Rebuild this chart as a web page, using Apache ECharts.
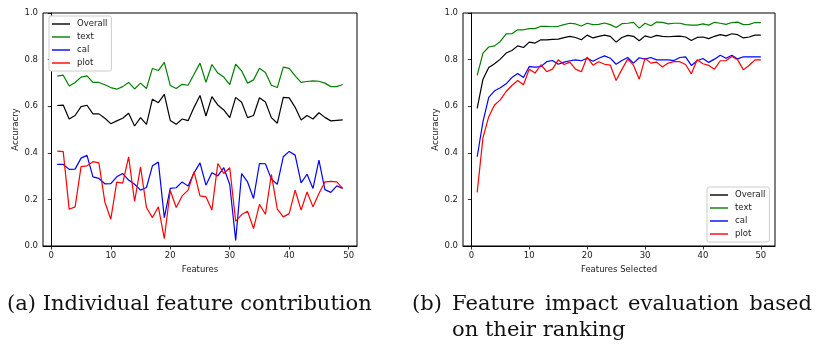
<!DOCTYPE html>
<html>
<head>
<meta charset="utf-8">
<script src="https://cdn.jsdelivr.net/npm/echarts@6/dist/echarts.min.js"></script>
<style>
html,body{margin:0;padding:0;background:#fff;}
#c{width:816px;height:352px;}
</style>
</head>
<body>
<div id="c"></div>
<script>
// ---------- data: (a) Individual feature contribution ----------
const seriesNames = ['Overall', 'text', 'cal', 'plot'];
const aOverall = [0.603,0.605,0.545,0.560,0.598,0.604,0.567,0.567,0.548,0.525,0.537,0.548,0.570,0.515,0.551,0.522,0.630,0.615,0.651,0.539,0.522,0.545,0.538,0.595,0.646,0.558,0.641,0.605,0.584,0.551,0.638,0.617,0.551,0.560,0.636,0.618,0.551,0.527,0.638,0.636,0.595,0.541,0.560,0.545,0.572,0.552,0.537,0.539,0.541];
const aText = [0.729,0.733,0.687,0.702,0.725,0.730,0.702,0.702,0.692,0.680,0.673,0.684,0.702,0.674,0.699,0.676,0.762,0.753,0.788,0.689,0.676,0.694,0.690,0.737,0.785,0.703,0.779,0.742,0.725,0.693,0.780,0.752,0.699,0.713,0.763,0.745,0.690,0.680,0.768,0.762,0.730,0.702,0.706,0.709,0.707,0.699,0.684,0.684,0.693];
const aCal = [0.350,0.350,0.329,0.330,0.377,0.389,0.297,0.290,0.267,0.268,0.297,0.311,0.283,0.265,0.240,0.251,0.344,0.360,0.122,0.247,0.250,0.275,0.257,0.314,0.357,0.261,0.314,0.301,0.336,0.264,0.024,0.311,0.275,0.204,0.354,0.353,0.287,0.265,0.383,0.406,0.390,0.271,0.308,0.247,0.369,0.242,0.230,0.258,0.247];
const aPlot = [0.407,0.405,0.158,0.168,0.341,0.344,0.362,0.357,0.189,0.115,0.274,0.270,0.383,0.191,0.340,0.165,0.122,0.168,0.032,0.238,0.165,0.215,0.240,0.319,0.215,0.211,0.154,0.354,0.311,0.336,0.106,0.135,0.149,0.075,0.179,0.136,0.307,0.158,0.125,0.139,0.240,0.154,0.232,0.168,0.225,0.275,0.277,0.275,0.247];

// ---------- data: (b) Feature impact evaluation based on ranking ----------
const bOverall = [0.591,0.716,0.766,0.782,0.802,0.828,0.839,0.859,0.852,0.875,0.871,0.885,0.885,0.887,0.888,0.894,0.900,0.895,0.885,0.905,0.893,0.900,0.905,0.900,0.875,0.895,0.904,0.900,0.881,0.902,0.895,0.904,0.900,0.898,0.900,0.901,0.897,0.882,0.895,0.897,0.890,0.900,0.907,0.902,0.911,0.907,0.893,0.897,0.905,0.905];
const bText = [0.732,0.828,0.854,0.859,0.878,0.910,0.911,0.928,0.928,0.933,0.933,0.943,0.943,0.941,0.943,0.950,0.956,0.953,0.944,0.956,0.950,0.951,0.957,0.950,0.938,0.954,0.956,0.960,0.935,0.956,0.945,0.961,0.960,0.953,0.956,0.956,0.950,0.948,0.948,0.953,0.948,0.960,0.956,0.951,0.959,0.961,0.950,0.951,0.959,0.959];
const bCal = [0.383,0.534,0.638,0.666,0.679,0.696,0.723,0.740,0.723,0.770,0.768,0.770,0.791,0.796,0.780,0.789,0.795,0.799,0.795,0.806,0.793,0.806,0.816,0.806,0.780,0.796,0.809,0.785,0.808,0.802,0.809,0.799,0.799,0.799,0.796,0.809,0.812,0.775,0.795,0.805,0.788,0.802,0.819,0.806,0.819,0.803,0.812,0.812,0.812,0.812];
const bPlot = [0.230,0.465,0.555,0.605,0.627,0.663,0.689,0.710,0.692,0.759,0.742,0.778,0.748,0.759,0.799,0.779,0.789,0.759,0.748,0.811,0.776,0.791,0.780,0.776,0.710,0.758,0.802,0.776,0.716,0.806,0.785,0.789,0.768,0.785,0.791,0.791,0.779,0.739,0.799,0.782,0.775,0.759,0.795,0.796,0.813,0.799,0.756,0.776,0.799,0.799];

const xTicks = [0, 10, 20, 30, 40, 50];
const yTicks = [0, 0.2, 0.4, 0.6, 0.8, 1.0];
const colors = ['#000000', '#008000', '#0000ff', '#ff0000'];
const captionA = '(a) Individual feature contribution';
const captionB1 = ['(b)', 'Feature', 'impact', 'evaluation', 'based'];
const captionB2 = 'on their ranking';

// ---------- build ----------
const FONT = '"DejaVu Sans", sans-serif';
const FS = 8.5;
const TXT = '#1a1a1a';

function pairs(arr) { return arr.map((v, i) => [i + 1, v]); }

function xAxis(gi, min, max, name) {
  return {
    type: 'value', gridIndex: gi, min: min, max: max,
    name: name, nameLocation: 'middle', nameGap: 15,
    nameTextStyle: { fontFamily: FONT, fontSize: FS, color: TXT },
    axisLine: { show: true, lineStyle: { color: '#000', width: 1 } },
    axisTick: { show: true, length: 3.5, inside: false, customValues: xTicks, lineStyle: { color: '#000', width: 0.8 } },
    axisLabel: { customValues: xTicks, fontFamily: FONT, fontSize: FS, color: TXT, margin: 5 },
    splitLine: { show: false }
  };
}
function yAxis(gi, gap) {
  return {
    type: 'value', gridIndex: gi, min: 0, max: 1, interval: 0.2,
    name: 'Accuracry', nameLocation: 'middle', nameGap: gap,
    nameTextStyle: { fontFamily: FONT, fontSize: FS, color: TXT },
    axisLine: { show: true, lineStyle: { color: '#000', width: 1 } },
    axisTick: { show: true, length: 3.5, inside: false, lineStyle: { color: '#000', width: 0.8 } },
    axisLabel: { fontFamily: FONT, fontSize: FS, color: TXT, margin: 5, formatter: v => v.toFixed(1) },
    splitLine: { show: false }
  };
}
function line(name, data, color, gi) {
  return {
    type: 'line', name: name, xAxisIndex: gi, yAxisIndex: gi,
    data: pairs(data), showSymbol: false, symbol: 'none',
    lineStyle: { color: color, width: 1.2 }, itemStyle: { color: color },
    emphasis: { disabled: true }, animation: false
  };
}
const LEG_ICON = 'path://M0,0 L18,0 L18,1.4 L0,1.4 Z';
function legend(left, top) {
  return {
    orient: 'vertical', left: left, top: top,
    data: seriesNames.map(n => ({ name: n, icon: LEG_ICON })),
    backgroundColor: '#fff', borderColor: '#cccccc', borderWidth: 1, borderRadius: 2,
    padding: [3, 4, 3, 3], itemGap: 3, itemWidth: 18, itemHeight: 10,
    itemStyle: { borderWidth: 0 },
    textStyle: { fontFamily: FONT, fontSize: FS, color: TXT, lineHeight: 10, padding: [0, 0, 0, 2] },
    selectedMode: false
  };
}

// captions
const SERIF = '"DejaVu Serif", serif';
const mctx = document.createElement('canvas').getContext('2d');
function tw(t, s) { mctx.font = s + 'px ' + SERIF; return mctx.measureText(t).width; }
const capSize = 19 * 365 / tw(captionA, 19);
const graphics = [];
graphics.push({ type: 'text', silent: true, style: { text: captionA, x: 7, y: 305, font: capSize + 'px ' + SERIF, fill: '#111', textAlign: 'left', textVerticalAlign: 'middle' } });
const bLeft = 412, bRight = 812;
const wordsW = captionB1.map(w => tw(w, capSize));
const gapB = (bRight - bLeft - wordsW.reduce((a, b) => a + b, 0)) / (captionB1.length - 1);
let cx = bLeft, featureX = 0;
captionB1.forEach((w, i) => {
  if (i === 1) featureX = cx;
  graphics.push({ type: 'text', silent: true, style: { text: w, x: cx, y: 305, font: capSize + 'px ' + SERIF, fill: '#111', textAlign: 'left', textVerticalAlign: 'middle' } });
  cx += wordsW[i] + gapB;
});
graphics.push({ type: 'text', silent: true, style: { text: captionB2, x: featureX, y: 331, font: capSize + 'px ' + SERIF, fill: '#111', textAlign: 'left', textVerticalAlign: 'middle' } });

const chart = echarts.init(document.getElementById('c'), null, { renderer: 'canvas' });
chart.setOption({
  animation: false,
  backgroundColor: '#fff',
  grid: [
    { left: 43, top: 13, width: 314, height: 233, show: true, borderColor: '#000', borderWidth: 1, backgroundColor: 'transparent' },
    { left: 463, top: 13, width: 312, height: 233, show: true, borderColor: '#000', borderWidth: 1, backgroundColor: 'transparent' }
  ],
  xAxis: [xAxis(0, -1.4, 51.4, 'Features'), xAxis(1, -1.45, 52.45, 'Features Selected')],
  yAxis: [yAxis(0, 22), yAxis(1, 22)],
  legend: [legend(49, 16), legend(707, 187)],
  series: [
    line('Overall', aOverall, colors[0], 0),
    line('text', aText, colors[1], 0),
    line('cal', aCal, colors[2], 0),
    line('plot', aPlot, colors[3], 0),
    line('Overall', bOverall, colors[0], 1),
    line('text', bText, colors[1], 1),
    line('cal', bCal, colors[2], 1),
    line('plot', bPlot, colors[3], 1)
  ],
  graphic: graphics
});
</script>
</body>
</html>
